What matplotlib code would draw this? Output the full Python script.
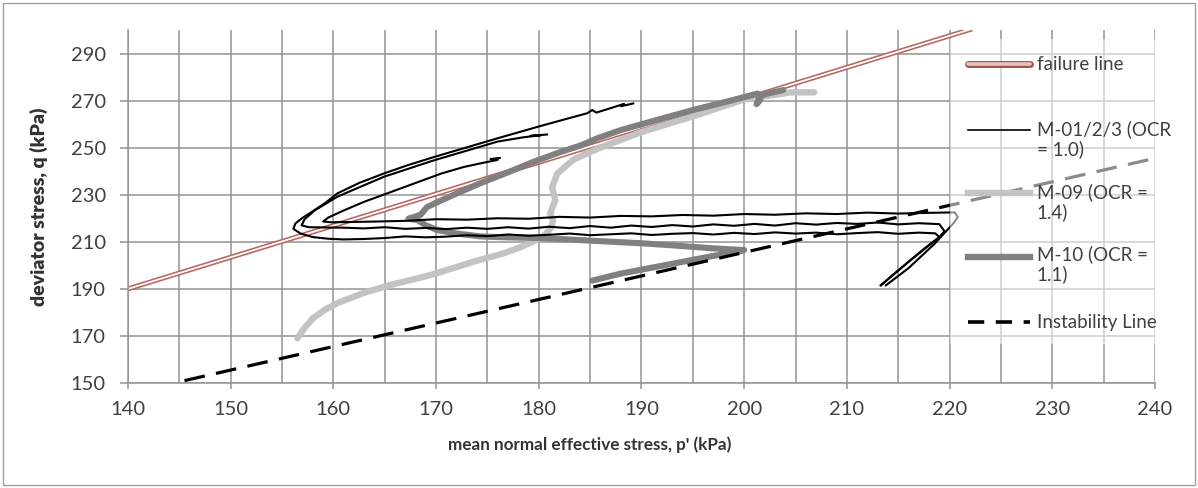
import matplotlib
matplotlib.use("Agg")
import matplotlib.pyplot as plt
from matplotlib.patches import Rectangle

plt.rcParams['font.family'] = ['Lato', 'DejaVu Sans']

# ---- data -------------------------------------------------------------
x_ticks = [140, 150, 160, 170, 180, 190, 200, 210, 220, 230, 240]
y_ticks = [150, 170, 190, 210, 230, 250, 270, 290]

# failure line (q = M p')
fail_p = [140.0, 222.2]
fail_q = [190.0, 300.5]

# instability line
inst_p = [145.5, 240.0]
inst_q = [151.0, 245.5]

# M-01/2/3 (OCR = 1.0): three tests
m01a_p = [213.3, 214.5, 216.0, 217.5, 219.0, 218.6, 217.0, 215.0, 213.0, 211.0,
          209.0, 207.0, 205.0, 203.0, 201.0, 199.0, 197.0, 195.0, 193.0, 191.0,
          189.0, 187.0, 185.0, 183.0, 181.0, 179.0, 177.0, 175.0, 173.0, 171.0,
          169.0, 167.0, 165.0, 163.0, 161.0, 159.5, 158.0, 156.8, 156.1, 156.3,
          157.0, 158.0, 159.2, 160.4, 162.5, 164.9, 167.2, 169.7, 172.5, 176.0,
          178.0, 180.0, 182.5, 184.7, 185.2, 185.6, 187.0, 188.3, 188.0, 189.2]
m01a_q = [191.5, 196.0, 201.5, 207.0, 212.0, 213.6, 213.9, 213.4, 214.1, 213.7,
          213.2, 213.9, 213.5, 214.0, 213.3, 213.8, 213.1, 213.7, 213.4, 212.9,
          213.6, 213.2, 212.8, 213.5, 213.0, 212.6, 213.1, 212.4, 212.8, 212.2,
          211.9, 212.3, 211.6, 211.2, 211.0, 211.3, 212.0, 213.5, 215.5, 217.8,
          220.2, 223.0, 226.5, 230.6, 235.0, 239.0, 242.5, 245.9, 249.5, 254.0,
          256.5, 259.0, 262.0, 264.6, 266.0, 264.9, 266.8, 268.6, 267.6, 268.8]

m01b_p = [213.3, 216.0, 219.0, 219.5, 219.0, 217.0, 215.0, 213.0, 211.0, 209.0,
          207.0, 205.0, 203.0, 201.0, 199.0, 197.0, 195.0, 193.0, 191.0, 189.0,
          187.0, 185.0, 183.0, 181.0, 179.0, 177.0, 175.0, 173.0, 171.0, 169.0,
          167.0, 165.0, 163.0, 161.0, 159.0, 157.6, 156.9, 157.2, 158.2, 160.4,
          164.9, 169.7, 176.0, 178.5, 180.2, 179.2, 180.8]
m01b_q = [191.5, 201.5, 212.0, 214.5, 217.5, 217.9, 217.4, 218.2, 217.6, 218.0,
          217.3, 217.9, 216.9, 217.6, 216.8, 217.4, 216.5, 217.1, 216.3, 216.9,
          216.0, 216.7, 215.8, 216.4, 215.6, 216.2, 215.5, 216.0, 215.4, 215.9,
          215.5, 216.2, 215.7, 216.0, 216.1, 216.2, 217.0, 219.6, 223.4, 229.2,
          237.6, 244.5, 252.6, 254.4, 255.3, 255.0, 255.6]

m01c_p = [213.8, 216.0, 218.5, 220.4, 220.8, 220.5, 218.0, 215.0, 212.0, 209.0,
          206.0, 203.0, 200.0, 197.0, 194.0, 191.0, 188.0, 185.0, 182.0, 179.0,
          176.0, 173.0, 170.0, 167.0, 164.0, 161.5, 159.8, 159.0, 159.5, 161.0,
          163.0, 165.5, 168.0, 170.5, 172.7, 174.5, 176.0, 175.3, 176.2]
m01c_q = [191.5, 198.8, 209.0, 218.0, 220.5, 222.5, 222.3, 222.0, 222.4, 221.8,
          222.1, 221.5, 221.8, 221.1, 221.4, 220.8, 221.0, 220.3, 220.6, 219.8,
          220.0, 219.4, 219.6, 218.9, 218.6, 218.4, 218.3, 218.6, 220.3, 223.3,
          227.0, 231.0, 235.0, 239.0, 241.8, 243.5, 244.8, 245.2, 245.6]

# M-09 (OCR = 1.4)
m09_p = [156.5, 157.2, 158.0, 159.2, 160.4, 162.9, 165.5, 169.4, 174.0, 176.5,
         178.2, 180.4, 181.2, 181.4, 181.1, 181.6, 181.3, 181.8, 183.4, 185.7,
         189.9, 195.5, 200.0, 204.5, 206.8]
m09_q = [169.0, 173.5, 177.5, 181.2, 184.0, 188.2, 191.6, 195.8, 202.0, 205.0,
         207.7, 212.0, 216.0, 219.2, 222.0, 227.6, 233.2, 239.0, 245.0, 249.5,
         256.5, 264.0, 270.5, 273.5, 273.5]

# M-10 (OCR = 1.1)
m10_p = [185.2, 188.0, 191.0, 194.0, 197.0, 199.6, 200.0, 197.0, 193.0, 189.9,
         185.0, 180.8, 176.0, 174.3, 172.0, 170.1, 169.0, 168.2, 167.3, 168.5,
         169.1, 170.1, 172.0, 174.3, 177.0, 179.2, 182.0, 184.1, 185.7, 188.0,
         192.1, 195.0, 198.7, 201.3, 201.5, 201.2, 201.8, 203.8]
m10_q = [193.5, 196.5, 199.0, 201.5, 204.0, 206.0, 206.5, 207.2, 208.5, 209.4,
         210.5, 211.5, 212.0, 212.3, 213.5, 215.0, 217.0, 219.2, 219.8, 221.5,
         224.7, 226.8, 230.5, 234.9, 239.5, 243.5, 248.0, 251.0, 254.0, 257.5,
         262.5, 266.0, 270.0, 273.0, 270.0, 268.5, 272.5, 274.5]

legend_labels = ["failure line", "M-01/2/3 (OCR\n= 1.0)", "M-09 (OCR =\n1.4)",
                 "M-10 (OCR =\n1.1)", "Instability Line"]

# ---- styles -----------------------------------------------------------
GRID = '#939393'
TXT = '#404040'
FAIL_EDGE = '#b8665f'
LIGHT = '#c3c3c3'
DARK = '#808080'

fig = plt.figure(figsize=(11.98, 4.88), dpi=100)
W, H = 1198, 488
ax = fig.add_axes([128 / W, 1 - 383 / H, 1027 / W, 353 / H])

ax.set_xlim(140, 240)
ax.set_ylim(150, 300)
ax.set_xticks(x_ticks)
ax.set_xticks([t + 5 for t in x_ticks[:-1]], minor=True)
ax.set_yticks(y_ticks)
ax.grid(which='both', color=GRID, lw=1.1)
ax.set_axisbelow(True)
for s in ('top', 'right'):
    ax.spines[s].set_visible(False)
for s in ('left', 'bottom'):
    ax.spines[s].set_color(GRID)
    ax.spines[s].set_linewidth(1.1)
ax.tick_params(axis='both', which='major', direction='out', color=GRID,
               labelcolor=TXT, labelsize=14.5, width=1.1)
ax.tick_params(axis='y', length=6, pad=10)
ax.tick_params(axis='x', length=4, pad=9)
ax.tick_params(which='minor', length=0)

# failure line: double line look
ax.plot(fail_p, fail_q, color=FAIL_EDGE, lw=3.6, zorder=2, solid_capstyle='butt')
ax.plot(fail_p, fail_q, color='white', lw=1.3, zorder=2.1, solid_capstyle='butt')

ax.plot(m09_p, m09_q, color=LIGHT, lw=4.6, zorder=3, solid_capstyle='round',
        solid_joinstyle='round')
ax.plot(m10_p, m10_q, color=DARK, lw=4.4, zorder=3.5, solid_capstyle='round',
        solid_joinstyle='round')
for px, qy in ((m01a_p, m01a_q), (m01b_p, m01b_q), (m01c_p, m01c_q)):
    ax.plot(px, qy, color='black', lw=1.5, zorder=4)

ax.plot(inst_p, inst_q, color='black', lw=2.3, zorder=5, dashes=(6.5, 3.6),
        dash_capstyle='butt')

# legend panel (semi-transparent, overlays the plot area)
ax.add_patch(Rectangle((0.80, 0.11), 0.20, 0.865, transform=ax.transAxes,
                       facecolor='white', alpha=0.55, edgecolor='none', zorder=10))

hx = [0.818, 0.878]
tx = 0.885
kw = dict(transform=ax.transAxes, clip_on=False, zorder=11)
ax.plot(hx, [0.903, 0.903], color='#a5544d', lw=5.0, solid_capstyle='round', **kw)
ax.plot(hx, [0.903, 0.903], color='#ecc1bb', lw=2.6, solid_capstyle='round',
        transform=ax.transAxes, clip_on=False, zorder=11.5)
ax.plot(hx, [0.717, 0.717], color='black', lw=1.2, **kw)
ax.plot(hx, [0.539, 0.539], color=LIGHT, lw=4.6, **kw)
ax.plot(hx, [0.358, 0.358], color=DARK, lw=4.6, **kw)
ax.plot(hx, [0.172, 0.172], color='black', lw=2.6, dashes=(4.5, 3.2),
        dash_capstyle='butt', **kw)

label_y = [0.901, 0.690, 0.512, 0.336, 0.170]
for lab, yy in zip(legend_labels, label_y):
    ax.text(tx, yy, lab, transform=ax.transAxes, fontsize=13.5, color=TXT,
            va='center', ha='left', linespacing=1.15, zorder=12)

ax.set_ylabel('deviator stress, q (kPa)', fontsize=14, fontweight='heavy',
              color='#333333')
ax.yaxis.set_label_coords(-0.078, 0.5)
ax.set_xlabel("mean normal effective stress, p' (kPa)", fontsize=12.3,
              fontweight='bold', color='#333333', va='center')
ax.xaxis.set_label_coords(0.45, -0.176)

fig.patches.append(Rectangle((3 / W, 3 / H), 1 - 6 / W, 1 - 6 / H,
                             transform=fig.transFigure, fill=False,
                             edgecolor='#a0a0a0', lw=1.0))

fig.savefig('out.png', dpi=100)
